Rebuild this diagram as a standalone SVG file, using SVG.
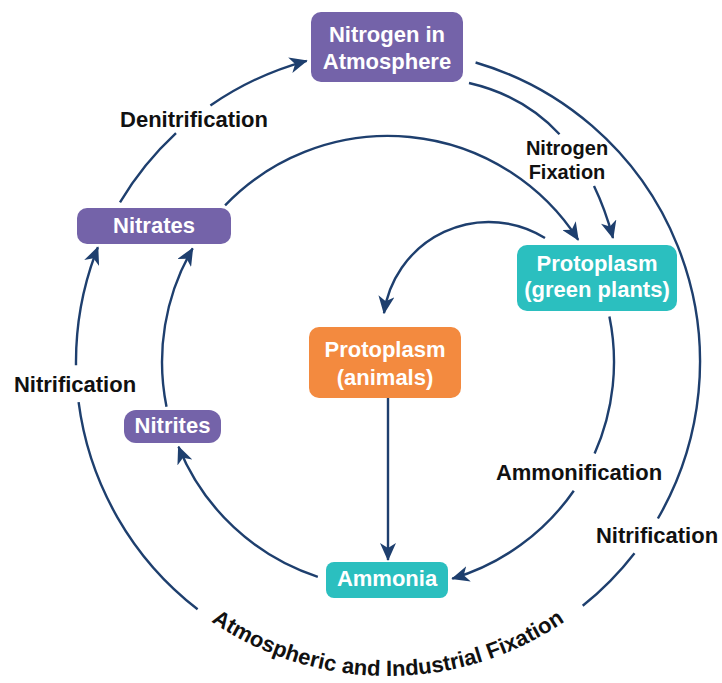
<svg xmlns="http://www.w3.org/2000/svg" width="722" height="683" viewBox="0 0 722 683">
<style>
.node-purple{fill:#7463a9}
.node-teal{fill:#2bbfbf}
.node-orange{fill:#f38a3f}
.nt{font-family:"Liberation Sans",Arial,sans-serif;font-weight:bold;font-size:22px;fill:#ffffff;text-anchor:middle}
.lb{font-family:"Liberation Sans",Arial,sans-serif;font-weight:bold;font-size:22px;fill:#111111;text-anchor:middle}
.lbs{font-size:20px}
.conn{fill:none;stroke:#1e3f6e;stroke-width:2.4}
</style>
<defs>
<marker id="ah" markerUnits="userSpaceOnUse" markerWidth="18" markerHeight="16" viewBox="0 0 18 16" refX="17" refY="8" orient="auto">
<path d="M0,0 L18,8 L0,16 L5,8 Z" fill="#1e3f6e"/>
</marker>
<path id="bottomArc" d="M74,362 A314,314 0 0 0 702,362"/>
</defs>
<rect width="722" height="683" fill="#ffffff"/>
<g id="connectors">
<path class="conn" marker-end="url(#ah)" d="M475.6,62.5 A312,312 0 0 1 657.9,518.5 M634.5,553.2 A312,312 0 0 1 582.7,605.8 M197.6,609.2 A312,312 0 0 1 78.6,402.2 M76.0,365.3 A312,312 0 0 1 97.9,247.2"/>
<path class="conn" marker-end="url(#ah)" d="M120.0,202.3 A312,312 0 0 1 176.0,133.1 M210.4,105.5 A312,312 0 0 1 306.7,60.8"/>
<path class="conn" marker-end="url(#ah)" d="M469,83 Q523.5,95.5 559.5,134.2 M594,186 Q605.3,209.4 613,238"/>
<path class="conn" marker-end="url(#ah)" d="M225.1,205.3 A226,226 0 0 1 578.2,239.9"/>
<path class="conn" marker-end="url(#ah)" d="M609.4,316.5 A226,226 0 0 1 594.6,453.6 M573.8,490.7 A226,226 0 0 1 452.2,578.7"/>
<path class="conn" marker-end="url(#ah)" d="M317.8,576.8 A226,226 0 0 1 178.5,446.7"/>
<path class="conn" marker-end="url(#ah)" d="M166.5,406.7 A226,226 0 0 1 192.7,248.3"/>
<path class="conn" marker-end="url(#ah)" d="M545,238 A106,106 0 0 0 384,313.2"/>
<path class="conn" marker-end="url(#ah)" d="M388,398 L388,560"/>
</g>
<g id="labels">
<text class="lb" x="194" y="127">Denitrification</text>
<text class="lb lbs" x="567" y="155">Nitrogen</text>
<text class="lb lbs" x="567" y="179">Fixation</text>
<text class="lb" x="75" y="392">Nitrification</text>
<text class="lb" x="579" y="480">Ammonification</text>
<text class="lb" x="657" y="543">Nitrification</text>
<text class="lb"><textPath href="#bottomArc" startOffset="50%">Atmospheric and Industrial Fixation</textPath></text>
</g>
<g id="node-atmosphere">
<rect class="node-purple" x="311" y="12" width="152" height="70" rx="10"/>
<text class="nt" x="387" y="42">Nitrogen in</text>
<text class="nt" x="387" y="69">Atmosphere</text>
</g>
<g id="node-nitrates">
<rect class="node-purple" x="77" y="208" width="154" height="36" rx="10"/>
<text class="nt" x="154" y="233">Nitrates</text>
</g>
<g id="node-nitrites">
<rect class="node-purple" x="124" y="410" width="97" height="33" rx="12"/>
<text class="nt" x="172.5" y="433">Nitrites</text>
</g>
<g id="node-green-plants">
<rect class="node-teal" x="517" y="245" width="160" height="66" rx="10"/>
<text class="nt" x="597" y="271">Protoplasm</text>
<text class="nt" x="597" y="297">(green plants)</text>
</g>
<g id="node-animals">
<rect class="node-orange" x="309" y="327" width="152" height="71" rx="10"/>
<text class="nt" x="385" y="357">Protoplasm</text>
<text class="nt" x="385" y="385">(animals)</text>
</g>
<g id="node-ammonia">
<rect class="node-teal" x="326" y="562" width="122" height="36" rx="8"/>
<text class="nt" x="387" y="586">Ammonia</text>
</g>
</svg>
